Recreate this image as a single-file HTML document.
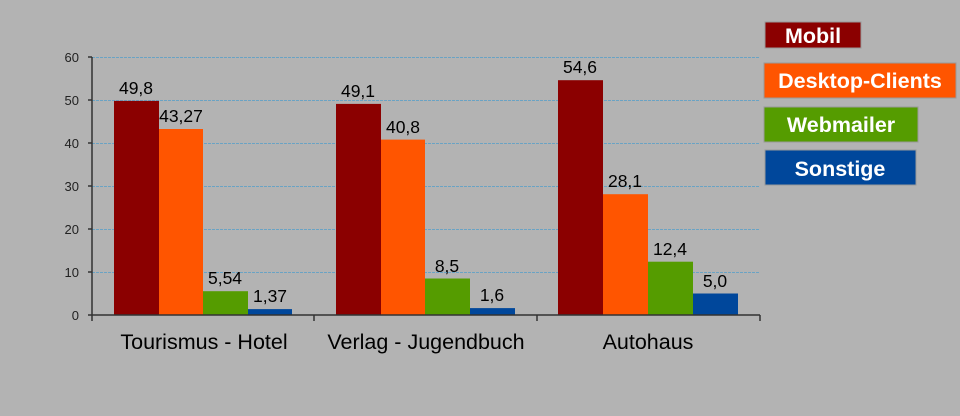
<!DOCTYPE html>
<html><head><meta charset="utf-8"><style>
html,body{margin:0;padding:0;background:#b3b3b3;}
svg{display:block;font-family:"Liberation Sans",Arial,sans-serif;}
</style></head><body>
<svg width="960" height="416" viewBox="0 0 960 416">
<rect width="960" height="416" fill="#b3b3b3"/>
<g stroke="#6aa3c4" stroke-width="1" stroke-dasharray="3,1">
<line x1="92" x2="760" y1="57.5" y2="57.5"/>
<line x1="92" x2="760" y1="100.5" y2="100.5"/>
<line x1="92" x2="760" y1="143.5" y2="143.5"/>
<line x1="92" x2="760" y1="186.5" y2="186.5"/>
<line x1="92" x2="760" y1="229.5" y2="229.5"/>
<line x1="92" x2="760" y1="272.5" y2="272.5"/>
</g>
<g font-size="13" fill="#222" text-anchor="end">
<text x="79" y="62">60</text><text x="79" y="105">50</text><text x="79" y="148">40</text>
<text x="79" y="191">30</text><text x="79" y="234">20</text><text x="79" y="277">10</text><text x="79" y="320">0</text>
</g>
<g>
<rect x="114" y="100.9" width="45" height="214.1" fill="#8b0000"/>
<rect x="159" y="129" width="44" height="186" fill="#ff5500"/>
<rect x="203" y="291.2" width="45" height="23.8" fill="#559c00"/>
<rect x="248" y="309.1" width="44" height="5.9" fill="#00479b"/>
<rect x="336" y="103.9" width="45" height="211.1" fill="#8b0000"/>
<rect x="381" y="139.6" width="44" height="175.4" fill="#ff5500"/>
<rect x="425" y="278.5" width="45" height="36.5" fill="#559c00"/>
<rect x="470" y="308.1" width="45" height="6.9" fill="#00479b"/>
<rect x="558" y="80.2" width="45" height="234.8" fill="#8b0000"/>
<rect x="603" y="194.2" width="45" height="120.8" fill="#ff5500"/>
<rect x="648" y="261.7" width="45" height="53.3" fill="#559c00"/>
<rect x="693" y="293.5" width="45" height="21.5" fill="#00479b"/>
</g>
<g stroke="#333" stroke-width="1.5">
<line x1="92" y1="57" x2="92" y2="321"/>
<line x1="88" y1="315" x2="760" y2="315"/>
<line x1="88" y1="57" x2="92" y2="57"/><line x1="88" y1="100" x2="92" y2="100"/>
<line x1="88" y1="143" x2="92" y2="143"/><line x1="88" y1="186" x2="92" y2="186"/>
<line x1="88" y1="229" x2="92" y2="229"/><line x1="88" y1="272" x2="92" y2="272"/>
<line x1="314" y1="315" x2="314" y2="321"/><line x1="537" y1="315" x2="537" y2="321"/>
<line x1="760" y1="315" x2="760" y2="321"/>
</g>
<g font-size="17.5" fill="#000" text-anchor="middle">
<text x="136" y="94">49,8</text><text x="181" y="122">43,27</text>
<text x="225" y="284">5,54</text><text x="270" y="302">1,37</text>
<text x="358" y="97">49,1</text><text x="403" y="133">40,8</text>
<text x="447" y="272">8,5</text><text x="492" y="301">1,6</text>
<text x="580" y="73">54,6</text><text x="625" y="187">28,1</text>
<text x="670" y="255">12,4</text><text x="715" y="287">5,0</text>
</g>
<g font-size="21.5" fill="#000" text-anchor="middle">
<text x="204" y="349">Tourismus - Hotel</text>
<text x="426" y="349">Verlag - Jugendbuch</text>
<text x="648" y="349">Autohaus</text>
</g>
<g font-size="21.5" font-weight="bold" fill="#fff" text-anchor="middle">
<rect x="765" y="22" width="96" height="26" fill="#8b0000" stroke="#999"/>
<text x="813" y="43">Mobil</text>
<rect x="764" y="63" width="192" height="35" fill="#ff5500" stroke="#999"/>
<text x="860" y="88">Desktop-Clients</text>
<rect x="764" y="107" width="154" height="35" fill="#559c00" stroke="#999"/>
<text x="841" y="132">Webmailer</text>
<rect x="765" y="150" width="151" height="35" fill="#00479b" stroke="#999"/>
<text x="840" y="176">Sonstige</text>
</g>
</svg>
</body></html>
